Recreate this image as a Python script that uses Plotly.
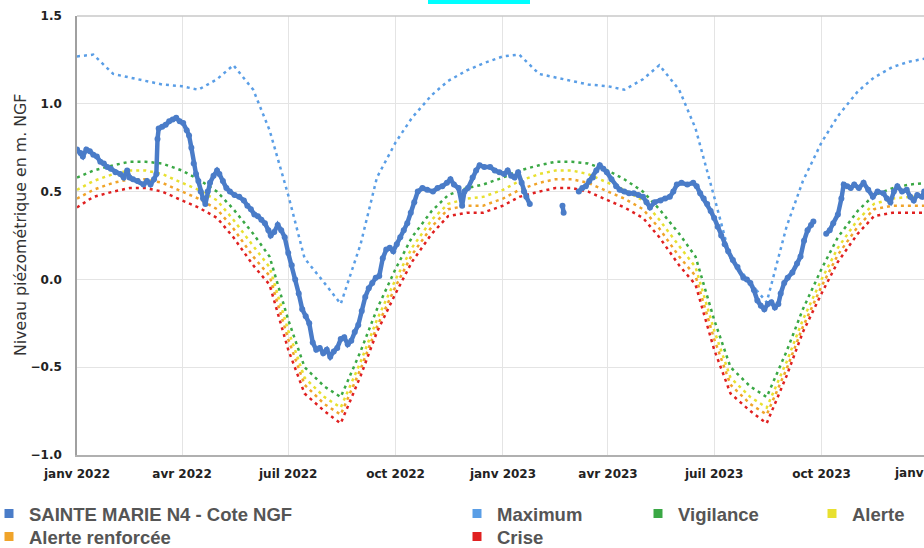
import plotly.graph_objects as go

# ---------------- data ----------------
obs_dates = [
    "2022-01-01","2022-01-04","2022-01-06","2022-01-09","2022-01-12","2022-01-15","2022-01-18","2022-01-21",
    "2022-01-24","2022-01-27","2022-01-30","2022-02-03","2022-02-07","2022-02-10","2022-02-13","2022-02-15",
    "2022-02-18","2022-02-22","2022-02-27","2022-03-02","2022-03-05","2022-03-08","2022-03-10","2022-03-11",
    "2022-03-12","2022-03-15","2022-03-18","2022-03-21","2022-03-24","2022-03-27","2022-03-30","2022-04-02",
    "2022-04-05","2022-04-07","2022-04-09","2022-04-11","2022-04-13","2022-04-15","2022-04-17","2022-04-19",
    "2022-04-21","2022-04-23","2022-04-25","2022-04-28","2022-05-01","2022-05-03","2022-05-06","2022-05-09",
    "2022-05-12","2022-05-16","2022-05-20","2022-05-24","2022-05-27","2022-05-30","2022-06-02","2022-06-05",
    "2022-06-08","2022-06-11","2022-06-14","2022-06-16","2022-06-19","2022-06-22","2022-06-25","2022-06-28",
    "2022-07-01","2022-07-04","2022-07-07","2022-07-10","2022-07-13","2022-07-16","2022-07-19","2022-07-22",
    "2022-07-25","2022-07-28","2022-07-31","2022-08-03","2022-08-06","2022-08-09","2022-08-12","2022-08-15",
    "2022-08-18","2022-08-21","2022-08-24","2022-08-27","2022-08-30","2022-09-02","2022-09-05","2022-09-08",
    "2022-09-11","2022-09-14","2022-09-17","2022-09-20","2022-09-23","2022-09-26","2022-09-29","2022-10-02",
    "2022-10-05","2022-10-08","2022-10-11","2022-10-14","2022-10-17","2022-10-20","2022-10-24","2022-10-28",
    "2022-11-02","2022-11-06","2022-11-10","2022-11-14","2022-11-17","2022-11-20","2022-11-24","2022-11-27",
    "2022-11-29","2022-12-02","2022-12-06","2022-12-09","2022-12-12","2022-12-16","2022-12-21","2022-12-25",
    "2022-12-29","2023-01-02","2023-01-05","2023-01-08","2023-01-11","2023-01-14","2023-01-17","2023-01-19",
    "2023-01-21","2023-01-24","2023-02-05",
    "2023-02-21","2023-02-22","2023-03-01",
    "2023-03-07","2023-03-10","2023-03-13","2023-03-16","2023-03-19","2023-03-22","2023-03-25","2023-03-28",
    "2023-03-31","2023-04-04","2023-04-08","2023-04-11","2023-04-15","2023-04-19","2023-04-23","2023-04-27",
    "2023-05-01","2023-05-04","2023-05-07","2023-05-11","2023-05-16","2023-05-20","2023-05-24","2023-05-27",
    "2023-05-30","2023-06-03","2023-06-08","2023-06-13","2023-06-16","2023-06-19","2023-06-22","2023-06-25",
    "2023-06-28","2023-07-01","2023-07-04","2023-07-07","2023-07-10","2023-07-13","2023-07-17","2023-07-21",
    "2023-07-26","2023-07-29","2023-08-01","2023-08-04","2023-08-07","2023-08-10","2023-08-13","2023-08-16",
    "2023-08-19","2023-08-22","2023-08-25","2023-08-27","2023-08-30","2023-09-02","2023-09-06","2023-09-10",
    "2023-09-13","2023-09-16","2023-09-19","2023-09-22","2023-09-24","2023-09-30",
    "2023-10-05","2023-10-08","2023-10-11","2023-10-15","2023-10-18","2023-10-20","2023-10-23","2023-10-26",
    "2023-10-29","2023-11-02","2023-11-06","2023-11-10","2023-11-14","2023-11-18","2023-11-23","2023-11-26",
    "2023-11-29","2023-12-02","2023-12-05","2023-12-09","2023-12-13","2023-12-16","2023-12-19","2023-12-22",
    "2023-12-26","2023-12-28",
]
obs_values = [
    0.74,0.72,0.70,0.74,0.73,0.71,0.70,0.67,
    0.66,0.64,0.63,0.61,0.60,0.58,0.62,0.58,
    0.57,0.56,0.54,0.56,0.54,0.57,0.60,0.80,
    0.86,0.87,0.88,0.90,0.91,0.92,0.90,0.89,
    0.85,0.82,0.75,0.66,0.60,0.56,0.50,0.46,
    0.43,0.50,0.55,0.59,0.62,0.60,0.56,0.52,
    0.50,0.48,0.47,0.45,0.42,0.40,0.37,0.36,
    0.34,0.32,0.28,0.25,0.27,0.31,0.28,0.24,
    0.15,0.08,0.00,-0.08,-0.17,-0.21,-0.25,-0.36,
    -0.40,-0.39,-0.42,-0.40,-0.44,-0.41,-0.39,-0.34,
    -0.33,-0.37,-0.35,-0.30,-0.26,-0.18,-0.10,-0.05,
    -0.02,0.01,0.02,0.12,0.17,0.18,0.16,0.20,
    0.24,0.28,0.32,0.38,0.44,0.50,0.52,0.51,
    0.50,0.52,0.53,0.55,0.57,0.54,0.52,0.42,
    0.50,0.52,0.58,0.62,0.65,0.64,0.64,0.62,
    0.61,0.60,0.62,0.59,0.58,0.61,0.55,0.50,
    0.47,0.43,None,
    0.42,0.38,None,
    0.50,0.52,0.53,0.56,0.58,0.62,0.65,0.63,
    0.61,0.57,0.53,0.51,0.50,0.49,0.49,0.48,
    0.47,0.44,0.41,0.44,0.45,0.46,0.47,0.50,
    0.54,0.55,0.54,0.55,0.53,0.49,0.46,0.43,
    0.39,0.35,0.30,0.25,0.20,0.16,0.11,0.07,
    0.01,0.00,-0.02,-0.06,-0.12,-0.15,-0.17,-0.14,
    -0.13,-0.16,-0.14,-0.08,-0.02,0.01,0.04,0.09,
    0.13,0.22,0.28,0.31,0.33,None,
    0.26,0.28,0.32,0.37,0.46,0.54,0.53,0.52,
    0.54,0.52,0.55,0.51,0.47,0.50,0.49,0.46,
    0.44,0.50,0.53,0.50,0.51,0.47,0.45,0.48,
    0.47,0.50,
]

ref_dates = [
    "2022-01-01","2022-01-15","2022-02-01","2022-02-15","2022-03-01","2022-03-15","2022-04-01","2022-04-15",
    "2022-05-01","2022-05-15","2022-06-01","2022-06-15","2022-07-01","2022-07-15","2022-08-01","2022-08-15",
    "2022-09-01","2022-09-15","2022-10-01","2022-10-15","2022-11-01","2022-11-15","2022-12-01","2022-12-15",
    "2023-01-01","2023-01-15","2023-02-01","2023-02-15","2023-03-01","2023-03-15","2023-04-01","2023-04-15",
    "2023-05-01","2023-05-15","2023-06-01","2023-06-15","2023-07-01","2023-07-15","2023-08-01","2023-08-15",
    "2023-09-01","2023-09-15","2023-10-01","2023-10-15","2023-11-01","2023-11-15","2023-12-01","2023-12-15",
    "2023-12-31",
]
maximum = [
    1.27,1.28,1.17,1.15,1.13,1.11,1.10,1.08,1.14,1.22,1.08,0.85,0.48,0.12,-0.02,-0.14,
    0.20,0.58,0.78,0.92,1.05,1.13,1.19,1.23,
    1.27,1.28,1.17,1.15,1.13,1.11,1.10,1.08,1.14,1.22,1.08,0.86,0.47,0.12,-0.02,-0.13,
    0.30,0.56,0.78,0.93,1.07,1.15,1.21,1.24,1.26,
]
vigilance = [
    0.58,0.62,0.65,0.67,0.67,0.66,0.62,0.57,0.50,0.40,0.26,0.13,-0.23,-0.50,-0.61,-0.67,
    -0.41,-0.17,0.06,0.24,0.39,0.48,0.52,0.54,
    0.58,0.62,0.65,0.67,0.67,0.66,0.62,0.57,0.50,0.40,0.26,0.13,-0.23,-0.50,-0.61,-0.67,
    -0.41,-0.17,0.06,0.24,0.39,0.48,0.52,0.54,0.55,
]
alerte = [
    0.51,0.56,0.60,0.62,0.62,0.60,0.55,0.51,0.45,0.34,0.19,0.07,-0.29,-0.56,-0.67,-0.73,
    -0.47,-0.23,0.00,0.18,0.34,0.43,0.46,0.47,
    0.51,0.56,0.60,0.62,0.62,0.60,0.55,0.51,0.45,0.34,0.19,0.07,-0.29,-0.56,-0.67,-0.73,
    -0.47,-0.23,0.00,0.18,0.34,0.43,0.46,0.47,0.47,
]
alerte_renforcee = [
    0.46,0.51,0.55,0.57,0.57,0.55,0.50,0.46,0.40,0.29,0.13,0.02,-0.34,-0.60,-0.71,-0.77,
    -0.51,-0.27,-0.04,0.14,0.30,0.40,0.42,0.42,
    0.46,0.51,0.55,0.57,0.57,0.55,0.50,0.46,0.40,0.29,0.13,0.02,-0.34,-0.60,-0.71,-0.77,
    -0.51,-0.27,-0.04,0.14,0.30,0.40,0.42,0.42,0.42,
]
crise = [
    0.41,0.47,0.50,0.52,0.52,0.50,0.45,0.41,0.35,0.24,0.08,-0.03,-0.40,-0.65,-0.75,-0.82,
    -0.55,-0.30,-0.08,0.10,0.26,0.36,0.38,0.38,
    0.42,0.47,0.50,0.52,0.52,0.50,0.45,0.41,0.35,0.24,0.08,-0.03,-0.40,-0.65,-0.75,-0.82,
    -0.55,-0.30,-0.08,0.10,0.26,0.36,0.38,0.38,0.38,
]

tick_vals = ["2022-01-01","2022-04-01","2022-07-01","2022-10-01",
             "2023-01-01","2023-04-01","2023-07-01","2023-10-01"]
tick_text = ["janv 2022","avr 2022","juil 2022","oct 2022",
             "janv 2023","avr 2023","juil 2023","oct 2023"]
y_ticks = [-1.0, -0.5, 0.0, 0.5, 1.0, 1.5]

# ---------------- styling ----------------
C_OBS = "#4a7cc8"
C_MAX = "#5a9ee6"
C_VIG = "#3aa845"
C_ALE = "#e8e030"
C_REN = "#f0a42a"
C_CRI = "#e02020"
FONT = "Liberation Sans, Arial, sans-serif"
TFONT = "DejaVu Sans, Verdana, sans-serif"

fig = go.Figure()

for name, vals, col in [("Vigilance", vigilance, C_VIG), ("Alerte", alerte, C_ALE),
                        ("Alerte renforcée", alerte_renforcee, C_REN), ("Crise", crise, C_CRI)]:
    fig.add_trace(go.Scatter(x=ref_dates, y=vals, mode="lines", name=name, showlegend=False,
                             line=dict(color=col, width=2.5, dash="3px,4px"), hoverinfo="skip"))

fig.add_trace(go.Scatter(x=ref_dates, y=maximum, mode="lines", name="Maximum", showlegend=False,
                         line=dict(color=C_MAX, width=2.5, dash="3px,4px")))

fig.add_trace(go.Scatter(x=obs_dates, y=obs_values, mode="lines+markers",
                         name="SAINTE MARIE N4 - Cote NGF", showlegend=False, connectgaps=False,
                         line=dict(color=C_OBS, width=4.5), marker=dict(color=C_OBS, size=6)))

W = 924 - 77
H = 455 - 16
def lx(px):
    return (px - 77) / W
def ly(py):
    return (455 - py) / H

# legend entries (square symbols), one legend box per slot
leg_items = [
    ("SAINTE MARIE N4 - Cote NGF", C_OBS, "legend", -11, 514),
    ("Maximum", C_MAX, "legend2", 457, 514),
    ("Vigilance", C_VIG, "legend3", 638, 514),
    ("Alerte", C_ALE, "legend4", 812, 514),
    ("Alerte renforcée", C_REN, "legend5", -11, 537),
    ("Crise", C_CRI, "legend6", 457, 537),
]
leg_font = dict(family=FONT, size=18.5, color="#555555", weight="bold")
legend_layout = {}
for name, col, lg, px, py in leg_items:
    fig.add_trace(go.Scatter(x=[None], y=[None], mode="markers", name=name, legend=lg,
                             marker=dict(symbol="square", size=9, color=col)))
    legend_layout[lg] = dict(font=leg_font, bgcolor="rgba(0,0,0,0)", orientation="v", itemwidth=30,
                             yanchor="middle", xanchor="left", itemclick=False,
                             x=lx(px), y=ly(py))

fig.update_layout(
    width=924, height=548,
    margin=dict(l=77, r=0, t=16, b=93, autoexpand=False),
    paper_bgcolor="white", plot_bgcolor="white",
    font=dict(family=FONT, color="#333333"),
    xaxis=dict(
        type="date", range=["2022-01-01", "2023-12-27 19:00"], automargin=False,
        tickvals=tick_vals, ticktext=tick_text, showgrid=True, gridcolor="#e4e4e4", gridwidth=1,
        showline=True, linecolor="#b0b0b0", linewidth=1.5, ticks="", zeroline=False,
        tickfont=dict(family=TFONT, size=12, color="#222222", weight="bold"),
        ticklabelstandoff=7,
    ),
    yaxis=dict(
        range=[-1.0, 1.5], tickvals=y_ticks, tickformat=".1f", automargin=False,
        showgrid=True, gridcolor="#e4e4e4", gridwidth=1, zeroline=False,
        showline=True, linecolor="#a0a0a0", linewidth=1.5, ticks="",
        tickfont=dict(family=TFONT, size=12, color="#222222", weight="bold"),
        ticklabelstandoff=11,
    ),
    shapes=[
        dict(type="rect", xref="paper", yref="paper", x0=lx(428), x1=lx(530),
             y0=ly(4), y1=ly(-1), fillcolor="#00ffff", line=dict(width=0), layer="above"),
        dict(type="line", xref="paper", yref="paper", x0=0, x1=1, y0=1, y1=1,
             line=dict(color="#c8c8c8", width=1.5)),
    ],
    annotations=[
        dict(text="Niveau piézométrique en m. NGF", xref="paper", yref="paper",
             x=lx(20), y=ly(225), xanchor="center", yanchor="middle", textangle=-90,
             showarrow=False, font=dict(family=TFONT, size=15.8, color="#333333")),
        dict(text="janv 2024", xref="paper", yref="paper", x=lx(928), y=0, yshift=-18,
             xanchor="center", yanchor="middle", showarrow=False,
             font=dict(family=TFONT, size=12, color="#222222", weight="bold")),
    ],
    **legend_layout,
)

fig.write_html("out.html", config={"displayModeBar": False},
               post_script="document.body.style.margin='0';")
